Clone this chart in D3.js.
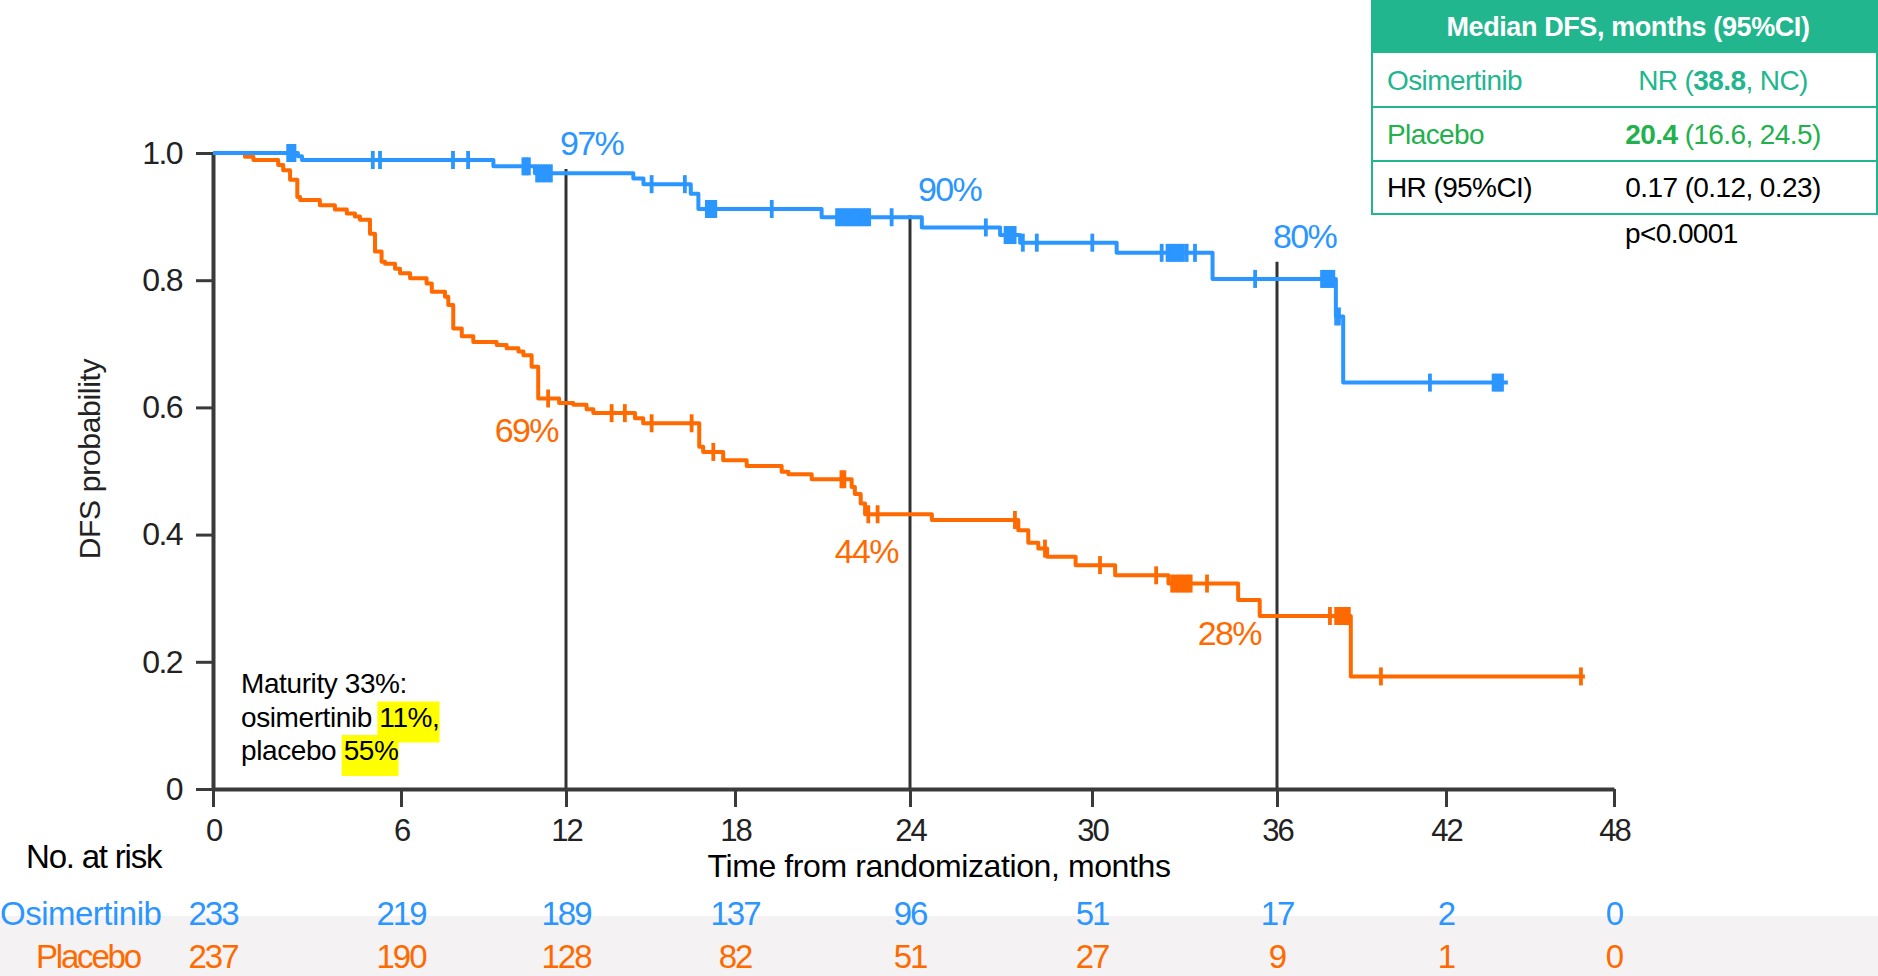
<!DOCTYPE html>
<html>
<head>
<meta charset="utf-8">
<script src="https://cdn.jsdelivr.net/npm/d3@7"></script>
<style>
  body { margin: 0; background: #fff; }
  svg { display: block; font-family: "Liberation Sans", Arial, sans-serif; }
</style>
</head>
<body>
<div id="km-chart"></div>
<script>
// x ticks (months) and y ticks (probability)
const monthTicks = [0, 6, 12, 18, 24, 30, 36, 42, 48];
const probTicks = [0, 0.2, 0.4, 0.6, 0.8, 1.0];

// Osimertinib KM steps: [month, survival after step]
const osiSteps = [
  [0, 1.0], [2.71, 0.995], [2.84, 0.989], [9.36, 0.979], [10.87, 0.968],
  [14.39, 0.96], [14.75, 0.951], [16.43, 0.936], [16.7, 0.912], [20.97, 0.899],
  [24.39, 0.883], [26.97, 0.871], [27.63, 0.859], [30.8, 0.843], [33.91, 0.802],
  [38.09, 0.743], [38.35, 0.639],
];
const osiLastMonth = 44.21;
const osiCensored = [
  2.4, 2.45, 2.5, 2.55, 2.6, 5.1, 5.33, 7.89, 8.44, 10.45, 10.55, 10.65,
  10.95, 11.05, 11.15, 11.25, 11.35, 11.45, 15.04, 16.22, 17.0, 17.1, 17.2,
  17.3, 19.26, 21.5, 21.6, 21.7, 21.8, 21.9, 22.0, 22.1, 22.2, 22.3, 22.4,
  22.5, 22.6, 23.37, 26.5, 27.15, 27.25, 27.35, 27.45, 27.72, 28.18, 30.01,
  32.26, 32.45, 32.55, 32.65, 32.75, 32.85, 32.95, 33.07, 33.34, 35.29, 37.6,
  37.7, 37.8, 37.9, 38.0, 38.1, 38.2, 41.43, 43.7, 43.8, 43.9, 44.0,
];

// Placebo KM steps
const plaSteps = [
  [0, 1.0], [1.02, 0.994], [1.29, 0.989], [2.08, 0.981], [2.24, 0.973],
  [2.46, 0.958], [2.69, 0.931], [2.78, 0.926], [3.41, 0.918], [3.89, 0.911],
  [4.27, 0.905], [4.53, 0.9], [4.69, 0.895], [5.01, 0.873], [5.17, 0.845],
  [5.38, 0.829], [5.49, 0.826], [5.81, 0.818], [5.97, 0.811], [6.33, 0.803],
  [6.93, 0.795], [7.12, 0.782], [7.6, 0.774], [7.72, 0.761], [7.9, 0.724],
  [8.21, 0.712], [8.63, 0.703], [9.48, 0.698], [9.84, 0.693], [10.27, 0.688],
  [10.45, 0.682], [10.75, 0.664], [10.99, 0.614], [11.75, 0.607], [12.26, 0.604],
  [12.73, 0.597], [12.97, 0.591], [14.45, 0.583], [14.74, 0.575], [16.73, 0.538],
  [16.87, 0.53], [17.58, 0.517], [18.4, 0.508], [19.6, 0.499], [19.83, 0.495],
  [20.63, 0.487], [22.0, 0.475], [22.11, 0.464], [22.31, 0.449], [22.46, 0.432],
  [24.72, 0.423], [27.57, 0.407], [27.9, 0.387], [28.23, 0.378], [28.52, 0.365],
  [29.46, 0.352], [30.75, 0.336], [32.48, 0.323], [34.74, 0.297], [35.44, 0.272],
  [38.62, 0.177],
];
const plaLastMonth = 46.96;
const plaCensored = [
  11.35, 13.62, 14.09, 15.04, 16.46, 17.23, 21.65, 21.75, 22.57, 22.89, 27.46,
  28.45, 30.26, 32.08, 32.6, 32.7, 32.8, 32.9, 33.0, 33.1, 33.2, 33.73, 37.88,
  38.1, 38.19, 38.28, 38.37, 38.46, 38.55, 39.69, 46.82,
];

// landmark lines
const landmarkMonths = [12, 24, 36];
const landmarkTops = [0.975, 0.902, 0.829];
const osiLandmarkLabels = ["97%", "90%", "80%"];
const plaLandmarkLabels = ["69%", "44%", "28%"];

// number at risk
const atRiskOsi = [233, 219, 189, 137, 96, 51, 17, 2, 0];
const atRiskPla = [237, 190, 128, 82, 51, 27, 9, 1, 0];

// median table
const tableHeader = "Median DFS, months (95%CI)";
const tableRows = [
  { label: "Osimertinib", parts: [["NR (", false], ["38.8", true], [", NC)", false]] },
  { label: "Placebo", parts: [["20.4", true], [" (16.6, 24.5)", false]] },
  { label: "HR (95%CI)", parts: [["0.17 (0.12, 0.23)", false]] },
];
const pValueText = "p<0.0001";
const maturityLines = [
  ["Maturity 33%:", ""],
  ["osimertinib ", "11%,"],
  ["placebo ", "55%"],
];

const width = 1878;
const height = 976;
const blue = "#2b96ff";
const orange = "#ff6a00";
const teal = "#22b68e";
const green = "#22b14c";
const axisColor = "#3a3a3a";

// label offsets (layout only)
const osiLabelDx = [-6, 8, -4];
const plaLabelDx = [-8, -12, -16];
const plaLabelDy = [39, 49, 29];

const survivalAt = (steps, t) => {
  let s = steps[0][1];
  steps.forEach((d) => {
    if (d[0] <= t) s = d[1];
  });
  return s;
};

const svg = d3
  .select("#km-chart")
  .append("svg")
  .attr("width", width)
  .attr("height", height);

// the axis of the reference is drawn with uneven tick spacing
const xScale = d3
  .scaleLinear()
  .domain(monthTicks)
  .range([213, 401, 566, 735, 910, 1092, 1277, 1446, 1614]);

const yScale = d3.scaleLinear().domain([0, 1]).range([789, 153]);

// risk table band
svg
  .append("rect")
  .attr("x", 0)
  .attr("y", 916)
  .attr("width", width)
  .attr("height", height - 916)
  .attr("fill", "#f4f2f3");

// maturity note with highlights
const maturity = svg.append("g");
maturityLines.forEach((line, i) => {
  const baseY = 693 + i * 33.5;
  const t = maturity
    .append("text")
    .attr("x", 241)
    .attr("y", baseY)
    .style("font-size", "28px")
    .style("letter-spacing", "-0.4px")
    .style("white-space", "pre")
    .attr("fill", "#000")
    .text(line[0] + line[1]);
  if (line[1]) {
    const node = t.node();
    const start = line[0].length;
    const x0 = node.getStartPositionOfChar(start).x;
    const w = node.getSubStringLength(start, line[1].length);
    maturity
      .insert("rect", "text")
      .attr("x", x0 - 2)
      .attr("y", baseY - 25)
      .attr("width", w + 2)
      .attr("height", 41)
      .attr("fill", "#ffff00");
  }
});

// landmark vertical lines
svg
  .selectAll(".landmark")
  .data(landmarkMonths)
  .join("line")
  .attr("class", "landmark")
  .attr("x1", (d) => xScale(d))
  .attr("x2", (d) => xScale(d))
  .attr("y1", yScale(0))
  .attr("y2", (d, i) => yScale(landmarkTops[i]))
  .attr("stroke", "#333")
  .attr("stroke-width", 3);

// axes
const xAxis = svg
  .append("g")
  .attr("transform", `translate(0, ${yScale(0)})`)
  .call(
    d3
      .axisBottom(xScale)
      .tickValues(monthTicks)
      .tickSize(18)
      .tickSizeOuter(0)
      .tickPadding(12)
  );

const yAxis = svg
  .append("g")
  .attr("transform", `translate(${xScale(0)}, 0)`)
  .call(
    d3
      .axisLeft(yScale)
      .tickValues(probTicks)
      .tickFormat((d) => (d === 0 ? "0" : d.toFixed(1)))
      .tickSize(17)
      .tickSizeOuter(0)
      .tickPadding(14)
  );

[xAxis, yAxis].forEach((g) => {
  g.select(".domain").attr("stroke", axisColor).attr("stroke-width", 4);
  g.selectAll(".tick line").attr("stroke", axisColor).attr("stroke-width", 3);
  g.selectAll(".tick text")
    .attr("fill", "#222")
    .style("font-family", "'Liberation Sans', Arial, sans-serif")
    .style("font-size", "32px");
});
xAxis.selectAll(".tick text").style("font-size", "31px").style("letter-spacing", "-2px");
yAxis.selectAll(".tick text").style("letter-spacing", "-1.6px");

svg
  .append("text")
  .attr("x", 939)
  .attr("y", 877)
  .attr("text-anchor", "middle")
  .style("font-size", "32px")
  .style("letter-spacing", "-0.4px")
  .attr("fill", "#000")
  .text("Time from randomization, months");

svg
  .append("text")
  .attr("transform", "translate(100, 459) rotate(-90)")
  .attr("text-anchor", "middle")
  .style("font-size", "30px")
  .style("letter-spacing", "-0.3px")
  .attr("fill", "#222")
  .text("DFS probability");

// KM curves
const lineGenerator = d3
  .line()
  .x((d) => xScale(d[0]))
  .y((d) => yScale(d[1]))
  .curve(d3.curveStepAfter);

const drawArm = (steps, lastMonth, censored, color) => {
  const pts = steps.concat([[lastMonth, steps[steps.length - 1][1]]]);
  svg
    .append("path")
    .attr("d", lineGenerator(pts))
    .attr("fill", "none")
    .attr("stroke", color)
    .attr("stroke-width", 4)
    .attr("stroke-linejoin", "round");

  svg
    .append("g")
    .selectAll("line")
    .data(censored)
    .join("line")
    .attr("x1", (d) => xScale(d))
    .attr("x2", (d) => xScale(d))
    .attr("y1", (d) => yScale(survivalAt(steps, d)) - 9)
    .attr("y2", (d) => yScale(survivalAt(steps, d)) + 9)
    .attr("stroke", color)
    .attr("stroke-width", 3.8);
};

drawArm(plaSteps, plaLastMonth, plaCensored, orange);
drawArm(osiSteps, osiLastMonth, osiCensored, blue);

// landmark percentages
svg
  .selectAll(".osi-pct")
  .data(landmarkMonths)
  .join("text")
  .attr("class", "osi-pct")
  .attr("x", (d, i) => xScale(d) + osiLabelDx[i])
  .attr("y", (d, i) => yScale(landmarkTops[i]) - 14)
  .style("font-size", "34px")
  .style("letter-spacing", "-1.6px")
  .attr("fill", blue)
  .text((d, i) => osiLandmarkLabels[i]);

svg
  .selectAll(".pla-pct")
  .data(landmarkMonths)
  .join("text")
  .attr("class", "pla-pct")
  .attr("x", (d, i) => xScale(d) + plaLabelDx[i])
  .attr("y", (d, i) => yScale(survivalAt(plaSteps, d)) + plaLabelDy[i])
  .attr("text-anchor", "end")
  .style("font-size", "34px")
  .style("letter-spacing", "-1.6px")
  .attr("fill", orange)
  .text((d, i) => plaLandmarkLabels[i]);

// number at risk
svg
  .append("text")
  .attr("x", 26)
  .attr("y", 868)
  .style("font-size", "33px")
  .style("letter-spacing", "-1.2px")
  .attr("fill", "#000")
  .text("No. at risk");

svg
  .append("text")
  .attr("x", 0)
  .attr("y", 925)
  .style("font-size", "33px")
  .style("letter-spacing", "-0.5px")
  .attr("fill", blue)
  .text("Osimertinib");

svg
  .append("text")
  .attr("x", 36)
  .attr("y", 968)
  .style("font-size", "33px")
  .style("letter-spacing", "-2.2px")
  .attr("fill", orange)
  .text("Placebo");

const riskRow = (values, y, color) => {
  svg
    .append("g")
    .selectAll("text")
    .data(values)
    .join("text")
    .attr("x", (d, i) => xScale(monthTicks[i]))
    .attr("y", y)
    .attr("text-anchor", "middle")
    .style("font-size", "33px")
    .style("letter-spacing", "-2px")
    .attr("fill", color)
    .text((d) => d);
};
riskRow(atRiskOsi, 925, blue);
riskRow(atRiskPla, 968, orange);

// median DFS table
const table = svg.append("g");
const tableLeft = 1372;
const tableRight = 1877;
const rowLines = [53, 107, 161, 214];
const rowColors = [teal, green, "#000"];

table
  .append("rect")
  .attr("x", tableLeft)
  .attr("y", -2)
  .attr("width", tableRight - tableLeft)
  .attr("height", rowLines[0] + 2)
  .attr("fill", teal);

table
  .append("rect")
  .attr("x", tableLeft)
  .attr("y", -2)
  .attr("width", tableRight - tableLeft)
  .attr("height", rowLines[3] + 2)
  .attr("fill", "none")
  .attr("stroke", teal)
  .attr("stroke-width", 2);

table
  .selectAll(".row-line")
  .data(rowLines.slice(1, 3))
  .join("line")
  .attr("class", "row-line")
  .attr("x1", tableLeft)
  .attr("x2", tableRight)
  .attr("y1", (d) => d)
  .attr("y2", (d) => d)
  .attr("stroke", teal)
  .attr("stroke-width", 2);

table
  .append("text")
  .attr("x", 1628)
  .attr("y", 36)
  .attr("text-anchor", "middle")
  .style("font-size", "27px")
  .style("font-weight", "bold")
  .style("letter-spacing", "-0.4px")
  .attr("fill", "#fff")
  .text(tableHeader);

tableRows.forEach((row, i) => {
  const baseY = 90 + i * 53.5;
  table
    .append("text")
    .attr("x", 1387)
    .attr("y", baseY)
    .style("font-size", "28px")
    .style("letter-spacing", "-0.6px")
    .attr("fill", rowColors[i])
    .text(row.label);
  const t = table
    .append("text")
    .attr("x", 1723)
    .attr("y", baseY)
    .attr("text-anchor", "middle")
    .style("font-size", "28px")
    .style("letter-spacing", "-0.6px")
    .style("white-space", "pre")
    .attr("fill", rowColors[i]);
  row.parts.forEach((p) => {
    t.append("tspan")
      .style("font-weight", p[1] ? "bold" : "normal")
      .text(p[0]);
  });
});

table
  .append("text")
  .attr("x", 1625)
  .attr("y", 243)
  .style("font-size", "28px")
  .style("letter-spacing", "-0.6px")
  .attr("fill", "#000")
  .text(pValueText);
</script>
</body>
</html>
